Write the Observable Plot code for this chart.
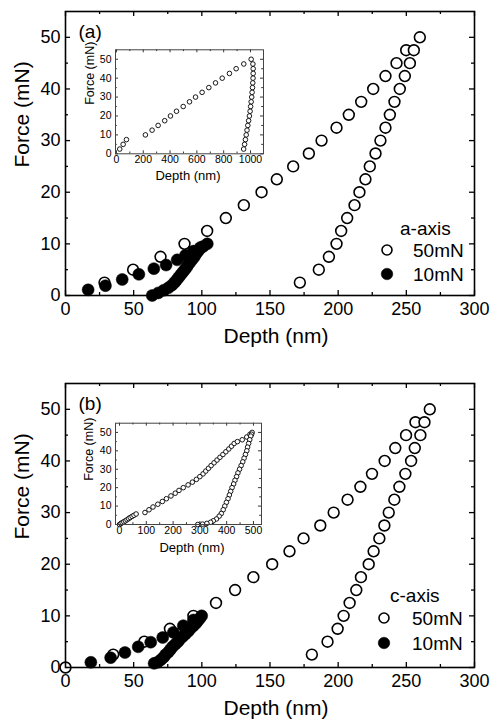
<!DOCTYPE html>
<html><head><meta charset="utf-8">
<script src="https://cdn.jsdelivr.net/npm/d3@7"></script>
<script src="https://cdn.jsdelivr.net/npm/@observablehq/plot@0.6"></script>
<style>
body{margin:0;background:#fff;}
#root{position:relative;width:495px;height:721px;overflow:hidden;font-family:"Liberation Sans",Arial,sans-serif;color:#000;}
#root svg{position:absolute;}
.lt{position:absolute;font-size:19px;line-height:1;transform:translateY(-50%);white-space:nowrap;}
</style></head><body><div id="root"></div>
<script>
// ---------- Panel (a): a-axis ----------
const aLoad50Depth = [28.6, 49.6, 69.7, 87.3, 103.9, 117.6, 130.8, 143.8, 155, 167, 178.5, 187.8, 198.8, 207.8, 216.9, 225.7, 234.7, 242.8, 249.9, 259.9];
const aLoad50Force = [2.5, 5, 7.5, 10, 12.5, 15, 17.5, 20, 22.5, 25, 27.5, 30, 32.5, 35, 37.5, 40, 42.5, 45, 47.5, 50];
const aUnload50Depth = [255.5, 252.6, 248.9, 245.2, 241.3, 237.9, 234.7, 231, 227.4, 223.2, 220, 215.6, 212, 206.6, 202.2, 198.8, 193.2, 185.8, 171.9];
const aUnload50Force = [47.5, 45, 42.5, 40, 37.5, 35, 32.5, 30, 27.5, 25, 22.5, 20, 17.5, 15, 12.5, 10, 7.5, 5, 2.5];
const aLoad10Depth = [16.6, 29.3, 41.6, 53.8, 64.8, 73.8, 81.9, 88, 94, 99, 104];
const aLoad10Force = [1.1, 1.9, 3.1, 4.1, 5.2, 5.9, 6.9, 7.8, 8.6, 9.3, 10];
const aUnload10Depth = [101, 98.5, 97, 95.5, 94.5, 93, 91.5, 90, 89, 87.5, 86, 84.5, 83, 81.5, 80, 78, 75.5, 72, 68, 63.6];
const aUnload10Force = [9.5, 9, 8.5, 8, 7.5, 7, 6.5, 6, 5.5, 5, 4.5, 4, 3.5, 3, 2.5, 2, 1.5, 1, 0.5, 0];
// inset (a)
const aInLoadDepth = [24.6, 50, 74.6, 216, 266, 311, 360, 403, 448, 498, 545, 590, 639, 689, 739, 789, 843, 893, 950, 1005];
const aInLoadForce = [2.5, 5, 7.5, 10, 12.5, 15, 17.5, 20, 22.5, 25, 27.5, 30, 32.5, 35, 37.5, 40, 42.5, 45, 47.5, 50];
const aInUnloadDepth = [1018, 1020, 1020, 1019, 1017, 1015, 1012, 1009, 1005, 1001, 997, 992, 986, 980, 974, 968, 962, 956, 949];
const aInUnloadForce = [47.5, 45, 42.5, 40, 37.5, 35, 32.5, 30, 27.5, 25, 22.5, 20, 17.5, 15, 12.5, 10, 7.5, 5, 2.5];

// ---------- Panel (b): c-axis ----------
const bLoad50Depth = [0, 35, 57.8, 76.6, 93.8, 110.4, 124.4, 137.8, 151.6, 164.3, 174.6, 186.9, 196.7, 206.9, 216.3, 224.8, 234.1, 241.9, 249.8, 256.7, 267.2];
const bLoad50Force = [0, 2.5, 5, 7.5, 10, 12.5, 15, 17.5, 20, 22.5, 25, 27.5, 30, 32.5, 35, 37.5, 40, 42.5, 45, 47.5, 50];
const bUnload50Depth = [263.3, 260.3, 256.2, 253.5, 249.3, 244.9, 241.2, 237.1, 233.9, 230.2, 226, 222.4, 216.7, 213.3, 208.4, 204, 199.6, 192.2, 180.7];
const bUnload50Force = [47.5, 45, 42.5, 40, 37.5, 35, 32.5, 30, 27.5, 25, 22.5, 20, 17.5, 15, 12.5, 10, 7.5, 5, 2.5];
const bLoad10Depth = [18.6, 33.1, 43.6, 53.3, 62.5, 71.3, 79.1, 86.4, 93.8, 99.9];
const bLoad10Force = [1.0, 1.9, 2.9, 4.0, 4.9, 5.8, 6.8, 8.1, 9.2, 10];
const bUnload10Depth = [98.5, 97, 95.5, 93.5, 91.5, 90, 88, 86, 84, 82.5, 80.5, 78.5, 77, 75.5, 73.5, 72, 70, 67.5, 65];
const bUnload10Force = [9.5, 9, 8.5, 8, 7.5, 7, 6.5, 6, 5.5, 5, 4.5, 4, 3.5, 3, 2.5, 2, 1.5, 1, 0.8];
// inset (b)
const bInLoadDepth = [0, 5, 10, 16, 22, 28, 34, 40, 47, 54, 62, 95, 110, 125, 143, 160, 175, 192, 208, 222, 238, 256, 272, 287, 300, 312, 322, 332, 342, 353, 364, 375, 386, 397, 408, 418, 428, 440, 458, 475, 487, 495];
const bInLoadForce = [0, 0.5, 1, 1.5, 2, 2.6, 3.2, 3.8, 4.4, 5, 5.7, 6.5, 8, 9.5, 11, 12.5, 14, 15.5, 17, 18.5, 20, 21.5, 23, 24.5, 26, 27.5, 29, 30.5, 32, 33.5, 35, 36.5, 38, 39.5, 41, 42.5, 44, 45, 46, 47.5, 49, 50];
const bInUnloadDepth = [493, 490, 486, 482, 478, 475, 470, 465, 460, 454, 448, 442, 437, 431, 426, 420, 415, 410, 405, 399, 393, 387, 380, 372, 362, 350, 340, 326, 310, 292];
const bInUnloadForce = [49, 48, 46, 44, 42, 40, 38, 36, 34, 32, 30, 28, 26, 24, 22, 20, 18, 16, 14, 12, 10, 8, 6, 4.5, 3, 2, 1.2, 0.6, 0.2, 0];

// ---------- ticks and labels ----------
const mainXTicks = [0, 50, 100, 150, 200, 250, 300];
const mainXMinor = [25, 75, 125, 175, 225, 275];
const mainYTicks = [0, 10, 20, 30, 40, 50];
const mainYMinor = [5, 15, 25, 35, 45];
const aInXTicks = [0, 200, 400, 600, 800, 1000];
const aInXMinor = [100, 300, 500, 700, 900];
const bInXTicks = [0, 100, 200, 300, 400, 500];
const bInXMinor = [50, 150, 250, 350, 450];
const inYTicks = [0, 10, 20, 30, 40, 50];
const inYMinor = [5, 15, 25, 35, 45];
const xTitle = "Depth (nm)";
const yTitle = "Force (mN)";
const seriesNames = ["50mN", "10mN"];

const FONT = "'Liberation Sans', Arial, sans-serif";
const fmt = d => String(d);
const pts = (ds, fs) => ds.map((d, i) => ({depth: d, force: fs[i]}));
const root = document.getElementById("root");

function tickMarks(xMaj, xMin, yMaj, yMin, pw, ph, lenMaj, lenMin, sw) {
  return [
    Plot.ruleX(xMaj, {x: d => d, insetTop: ph - lenMaj, strokeWidth: sw}),
    Plot.ruleX(xMaj, {x: d => d, insetBottom: ph - lenMaj, strokeWidth: sw}),
    Plot.ruleX(xMin, {x: d => d, insetTop: ph - lenMin, strokeWidth: sw}),
    Plot.ruleX(xMin, {x: d => d, insetBottom: ph - lenMin, strokeWidth: sw}),
    Plot.ruleY(yMaj, {y: d => d, insetRight: pw - lenMaj, strokeWidth: sw}),
    Plot.ruleY(yMaj, {y: d => d, insetLeft: pw - lenMaj, strokeWidth: sw}),
    Plot.ruleY(yMin, {y: d => d, insetRight: pw - lenMin, strokeWidth: sw}),
    Plot.ruleY(yMin, {y: d => d, insetLeft: pw - lenMin, strokeWidth: sw})
  ];
}

function mainPanel(top, label, open, filled, yTitleDy) {
  const W = 495, H = 349, ml = 65, mr = 21, mt = 11, mb = 54;
  const pw = W - ml - mr, ph = H - mt - mb;
  const svg = Plot.plot({
    width: W, height: H, marginLeft: ml, marginRight: mr, marginTop: mt, marginBottom: mb,
    style: {fontFamily: FONT, fontSize: "18px", background: "white", color: "black"},
    x: {domain: [0, 300]},
    y: {domain: [0, 55]},
    marks: [
      ...tickMarks(mainXTicks, mainXMinor, mainYTicks, mainYMinor, pw, ph, 5, 3, 1.3),
      Plot.axisX({ticks: mainXTicks, tickFormat: fmt, tickSize: 0, tickPadding: 7, fontSize: 18, label: null}),
      Plot.axisY({ticks: mainYTicks, tickFormat: fmt, tickSize: 0, tickPadding: 5, fontSize: 18, label: null}),
      Plot.dot(open, {x: "depth", y: "force", r: 5.4, fill: "white", stroke: "black", strokeWidth: 1.6}),
      Plot.dot(filled, {x: "depth", y: "force", r: 6, fill: "black", stroke: "black", strokeWidth: 0.5}),
      Plot.frame({stroke: "black", strokeWidth: 1.6}),
      Plot.text([label], {frameAnchor: "top-left", text: d => d, textAnchor: "start", lineAnchor: "middle", dx: 13, dy: 20.5, fontSize: 19}),
      Plot.text([xTitle], {frameAnchor: "bottom", text: d => d, lineAnchor: "middle", dx: 6, dy: 41, fontSize: 21}),
      Plot.text([yTitle], {frameAnchor: "left", text: d => d, rotate: -90, lineAnchor: "middle", dx: -43, dy: yTitleDy, fontSize: 21})
    ]
  });
  svg.style.left = "0px"; svg.style.top = top + "px";
  root.appendChild(svg);
}

function insetPanel(left, top, w, h, m, xDomain, xMaj, xMin, load, unload, tdx, tdy, fdx, fdy) {
  const pw = w - m[3] - m[1], ph = h - m[0] - m[2];
  const svg = Plot.plot({
    width: w, height: h, marginTop: m[0], marginRight: m[1], marginBottom: m[2], marginLeft: m[3],
    style: {fontFamily: FONT, fontSize: "10px", background: "transparent", color: "black"},
    x: {domain: xDomain},
    y: {domain: [0, 55]},
    marks: [
      Plot.frame({fill: "white", stroke: "none"}),
      ...tickMarks(xMaj, xMin, inYTicks, inYMinor, pw, ph, 3, 1.8, 0.8),
      Plot.axisX({ticks: xMaj, tickFormat: fmt, tickSize: 0, tickPadding: 2, fontSize: 10.5, label: null}),
      Plot.axisY({ticks: inYTicks, tickFormat: fmt, tickSize: 0, tickPadding: 4, fontSize: 10.5, label: null}),
      Plot.dot(load, {x: "depth", y: "force", r: 2.3, fill: "white", stroke: "black", strokeWidth: 0.9}),
      Plot.dot(unload, {x: "depth", y: "force", r: 2.3, fill: "white", stroke: "black", strokeWidth: 0.9}),
      Plot.frame({stroke: "#444", strokeWidth: 1}),
      Plot.text([xTitle], {frameAnchor: "bottom", text: d => d, lineAnchor: "middle", dx: tdx, dy: tdy, fontSize: 13}),
      Plot.text([yTitle], {frameAnchor: "left", text: d => d, rotate: -90, lineAnchor: "middle", dx: fdx, dy: fdy, fontSize: 12.5})
    ]
  });
  svg.style.left = left + "px"; svg.style.top = top + "px";
  root.appendChild(svg);
}

function legend(title, titleX, titleY, cx, y1, y2, textX) {
  const t = document.createElement("div");
  t.className = "lt"; t.textContent = title;
  t.style.left = titleX + "px"; t.style.top = titleY + "px";
  root.appendChild(t);
  const ns = "http://www.w3.org/2000/svg";
  [[y1, "white", seriesNames[0]], [y2, "black", seriesNames[1]]].forEach(([y, fill, name]) => {
    const s = document.createElementNS(ns, "svg");
    s.setAttribute("width", 16); s.setAttribute("height", 16);
    s.style.left = (cx - 8) + "px"; s.style.top = (y - 8) + "px";
    const c = document.createElementNS(ns, "circle");
    c.setAttribute("cx", 8); c.setAttribute("cy", 8);
    c.setAttribute("r", fill === "white" ? 5 : 5.8);
    c.setAttribute("fill", fill); c.setAttribute("stroke", "black");
    c.setAttribute("stroke-width", fill === "white" ? 1.6 : 0.5);
    s.appendChild(c); root.appendChild(s);
    const tx = document.createElement("div");
    tx.className = "lt"; tx.textContent = name;
    tx.style.left = textX + "px"; tx.style.top = y + "px";
    root.appendChild(tx);
  });
}

// Panel (a)
mainPanel(0, "(a)",
  [...pts(aLoad50Depth, aLoad50Force), ...pts(aUnload50Depth, aUnload50Force)],
  [...pts(aLoad10Depth, aLoad10Force), ...pts(aUnload10Depth, aUnload10Force)], 14);
insetPanel(75, 40, 195, 145, [9.3, 7, 31.7, 40], [-7, 1097], aInXTicks, aInXMinor,
  pts(aInLoadDepth, aInLoadForce), pts(aInUnloadDepth, aInUnloadForce), -1.5, 21.7, -26, 3);
legend("a-axis", 400, 228, 386.7, 250, 274, 413);

// Panel (b)
mainPanel(372, "(b)",
  [...pts(bLoad50Depth, bLoad50Force), ...pts(bUnload50Depth, bUnload50Force)],
  [...pts(bLoad10Depth, bLoad10Force), ...pts(bUnload10Depth, bUnload10Force)], 14);
insetPanel(75, 412, 195, 145, [10.7, 9, 33, 40], [-15, 530], bInXTicks, bInXMinor,
  pts(bInLoadDepth, bInLoadForce), pts(bInUnloadDepth, bInUnloadForce), 3.5, 23, -27, 7);
legend("c-axis", 390, 595, 384, 618.3, 642.7, 412);
</script>
</body></html>
